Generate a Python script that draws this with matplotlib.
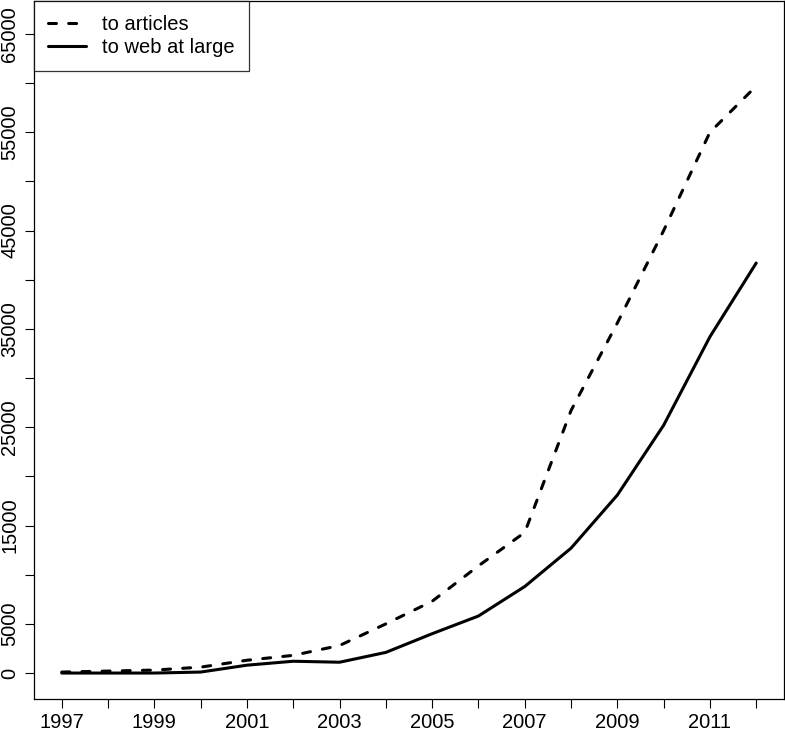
import matplotlib
matplotlib.use("Agg")
import matplotlib.pyplot as plt

plt.rcParams['font.family'] = ['Liberation Sans', 'DejaVu Sans']

years = list(range(1997, 2013))
to_articles = [100, 200, 300, 600, 1300, 1800, 2800, 5000, 7300, 10900,
               14300, 26700, 35600, 45000, 55000, 59700]
to_web = [0, 0, 0, 100, 800, 1200, 1100, 2100, 4000, 5800,
          8800, 12700, 18100, 25200, 34200, 41700]

y_ticks = list(range(0, 65001, 5000))
y_labels = [str(v) if v in (0, 5000, 15000, 25000, 35000, 45000, 55000, 65000) else ''
            for v in y_ticks]
x_labels = [str(y) if (y - 1997) % 2 == 0 else '' for y in years]

fig = plt.figure(figsize=(7.85, 7.31), dpi=100)
ax = fig.add_axes([34 / 785, 1 - 699 / 731, 750 / 785, 698 / 731])

ax.plot(years, to_articles, color='black', linewidth=2.2, linestyle=(0, (2.6, 4)),
        dash_capstyle='round', label='to articles')
ax.plot(years, to_web, color='black', linewidth=2.2, solid_capstyle='round',
        label='to web at large')

ax.set_xlim(1996.4, 2012.6)
ax.set_ylim(-2640, 68350)
ax.set_xticks(years)
ax.set_xticklabels(x_labels, fontsize=14.5)
ax.set_yticks(y_ticks)
ax.set_yticklabels(y_labels, fontsize=14.5, rotation=90, va='center')
ax.tick_params(axis='x', direction='out', length=6.5, width=0.8, pad=3.5)
ax.tick_params(axis='y', direction='out', length=6.5, width=0.8, pad=4)

for s in ax.spines.values():
    s.set_linewidth(0.9)

leg = ax.legend(loc='upper left', fontsize=14.5, frameon=True, fancybox=False,
                edgecolor='black', borderaxespad=0, handlelength=1.9,
                handletextpad=0.8, borderpad=0.7, labelspacing=0.2)
leg.get_frame().set_linewidth(0.9)

fig.savefig('out.png', dpi=100)
